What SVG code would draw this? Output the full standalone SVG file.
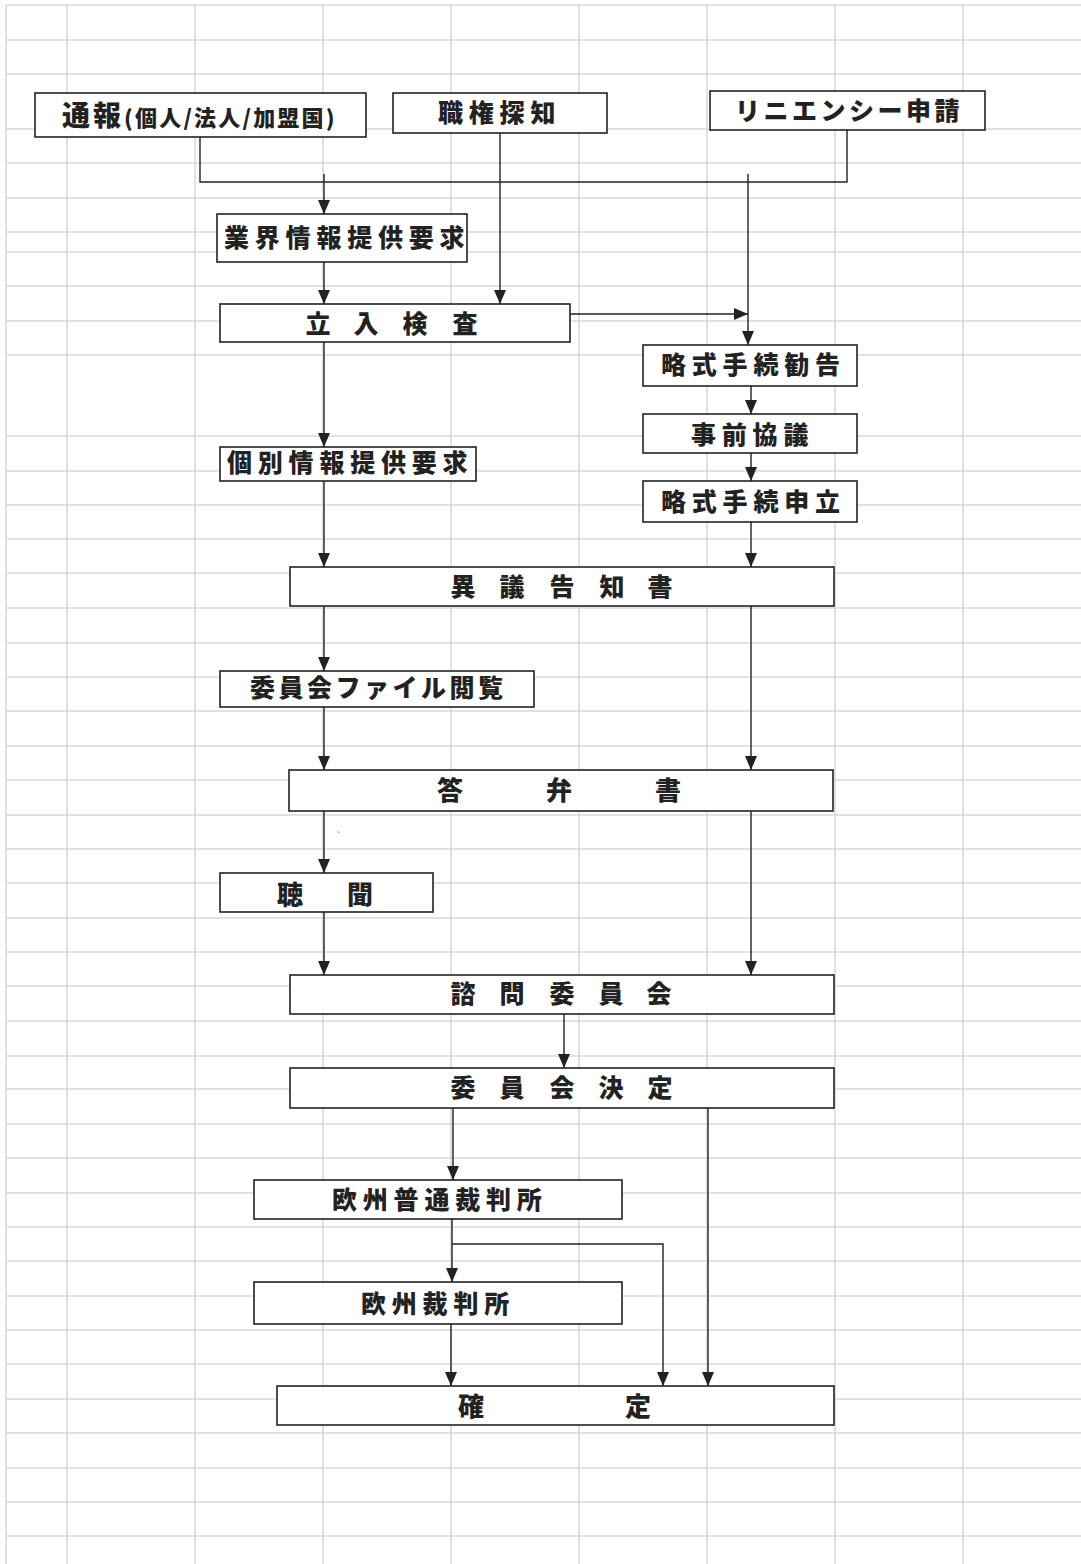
<svg xmlns="http://www.w3.org/2000/svg" width="1081" height="1564" viewBox="0 0 1081 1564">
<style>
.grid line{stroke:#d9d9d9;stroke-width:1.6}
.box{fill:#fff;stroke:#222;stroke-width:1.6}
.t{font-family:"Noto Sans CJK JP","Noto Sans CJK SC",sans-serif;font-weight:900;font-size:25px;fill:#222}
.ls{letter-spacing:5.8px}
.sp{text-anchor:middle;font-size:25px}
.big{font-size:26px}
.con path{fill:none;stroke:#222;stroke-width:1.4}
.arr{marker-end:url(#ah)}
</style>
<defs>
<marker id="ah" viewBox="0 0 14 12" refX="14" refY="6" markerWidth="14" markerHeight="12" markerUnits="userSpaceOnUse" orient="auto">
<path d="M0,0 L14,6 L0,12 z" fill="#222"/>
</marker>
</defs>
<rect x="0" y="0" width="1081" height="1564" fill="#fff"/>
<g class="grid">
<line x1="6" y1="5" x2="6" y2="1564"/>
<line x1="67" y1="5" x2="67" y2="1564"/>
<line x1="195" y1="5" x2="195" y2="1564"/>
<line x1="323" y1="5" x2="323" y2="1564"/>
<line x1="451" y1="5" x2="451" y2="1564"/>
<line x1="579" y1="5" x2="579" y2="1564"/>
<line x1="707" y1="5" x2="707" y2="1564"/>
<line x1="835" y1="5" x2="835" y2="1564"/>
<line x1="963" y1="5" x2="963" y2="1564"/>
<line x1="6" y1="5" x2="1081" y2="5"/>
<line x1="6" y1="40" x2="1081" y2="40"/>
<line x1="6" y1="74" x2="1081" y2="74"/>
<line x1="6" y1="129" x2="1081" y2="129"/>
<line x1="6" y1="163" x2="1081" y2="163"/>
<line x1="6" y1="198" x2="1081" y2="198"/>
<line x1="6" y1="232" x2="1081" y2="232"/>
<line x1="6" y1="252" x2="1081" y2="252"/>
<line x1="6" y1="286" x2="1081" y2="286"/>
<line x1="6" y1="321" x2="1081" y2="321"/>
<line x1="6" y1="355" x2="1081" y2="355"/>
<line x1="6" y1="436" x2="1081" y2="436"/>
<line x1="6" y1="471" x2="1081" y2="471"/>
<line x1="6" y1="505" x2="1081" y2="505"/>
<line x1="6" y1="539" x2="1081" y2="539"/>
<line x1="6" y1="573" x2="1081" y2="573"/>
<line x1="6" y1="608" x2="1081" y2="608"/>
<line x1="6" y1="643" x2="1081" y2="643"/>
<line x1="6" y1="677" x2="1081" y2="677"/>
<line x1="6" y1="711" x2="1081" y2="711"/>
<line x1="6" y1="746" x2="1081" y2="746"/>
<line x1="6" y1="780" x2="1081" y2="780"/>
<line x1="6" y1="815" x2="1081" y2="815"/>
<line x1="6" y1="849" x2="1081" y2="849"/>
<line x1="6" y1="883" x2="1081" y2="883"/>
<line x1="6" y1="918" x2="1081" y2="918"/>
<line x1="6" y1="952" x2="1081" y2="952"/>
<line x1="6" y1="986" x2="1081" y2="986"/>
<line x1="6" y1="1021" x2="1081" y2="1021"/>
<line x1="6" y1="1056" x2="1081" y2="1056"/>
<line x1="6" y1="1089" x2="1081" y2="1089"/>
<line x1="6" y1="1124" x2="1081" y2="1124"/>
<line x1="6" y1="1158" x2="1081" y2="1158"/>
<line x1="6" y1="1193" x2="1081" y2="1193"/>
<line x1="6" y1="1227" x2="1081" y2="1227"/>
<line x1="6" y1="1261" x2="1081" y2="1261"/>
<line x1="6" y1="1296" x2="1081" y2="1296"/>
<line x1="6" y1="1330" x2="1081" y2="1330"/>
<line x1="6" y1="1364" x2="1081" y2="1364"/>
<line x1="6" y1="1399" x2="1081" y2="1399"/>
<line x1="6" y1="1433" x2="1081" y2="1433"/>
<line x1="6" y1="1468" x2="1081" y2="1468"/>
<line x1="6" y1="1502" x2="1081" y2="1502"/>
<line x1="6" y1="1536" x2="1081" y2="1536"/>
</g>
<g class="con">
<path d="M200,137 V182 H847 V130"/>
<path class="arr" d="M324,174 V214"/>
<path class="arr" d="M324,262 V304"/>
<path class="arr" d="M500,133 V304"/>
<path class="arr" d="M748,174 V345"/>
<path class="arr" d="M567,314 H748"/>
<path class="arr" d="M324,342 V447"/>
<path class="arr" d="M324,481 V567"/>
<path class="arr" d="M324,606 V671"/>
<path class="arr" d="M324,707 V770"/>
<path class="arr" d="M324,811 V873"/>
<path class="arr" d="M324,912 V975"/>
<path class="arr" d="M751,386 V414"/>
<path class="arr" d="M751,453 V481"/>
<path class="arr" d="M751,522 V567"/>
<path class="arr" d="M751,606 V770"/>
<path class="arr" d="M751,811 V975"/>
<path class="arr" d="M564,1014 V1068"/>
<path class="arr" d="M453,1108 V1180"/>
<path class="arr" d="M708,1108 V1386"/>
<path class="arr" d="M452,1219 V1282"/>
<path class="arr" d="M452,1244 H663 V1386"/>
<path class="arr" d="M451,1324 V1386"/>
</g>
<g id="n-tsuho"><rect class="box" x="35" y="93" width="331" height="44"/><text class="t" x="62" y="126"><tspan font-size="28" letter-spacing="3">通報</tspan><tspan font-size="22" letter-spacing="2.2">(個人/法人/加盟国)</tspan></text></g>
<g id="n-shokken"><rect class="box" x="393" y="93" width="214" height="40"/><text class="t ls" x="438" y="122">職権探知</text></g>
<g id="n-leniency"><rect class="box" x="710" y="91" width="275" height="39"/><text class="t" x="735" y="120" letter-spacing="3.5">リニエンシー申請</text></g>
<g id="n-gyokai"><rect class="box" x="217" y="214" width="250" height="48"/><text class="t ls" x="224" y="247">業界情報提供要求</text></g>
<g id="n-tachiiri"><rect class="box" x="220" y="304" width="350" height="38"/><text class="t sp" x="318 366 415 465" y="333">立入検査</text></g>
<g id="n-kankoku"><rect class="box" x="643" y="345" width="214" height="41"/><text class="t ls" x="661" y="374">略式手続勧告</text></g>
<g id="n-jizen"><rect class="box" x="643" y="414" width="214" height="39"/><text class="t ls" x="691" y="444">事前協議</text></g>
<g id="n-moushitate"><rect class="box" x="643" y="481" width="214" height="41"/><text class="t ls" x="661" y="511">略式手続申立</text></g>
<g id="n-kobetsu"><rect class="box" x="220" y="447" width="256" height="34"/><text class="t ls" x="227" y="472">個別情報提供要求</text></g>
<g id="n-igi"><rect class="box" x="290" y="567" width="544" height="39"/><text class="t sp" x="463 512 562 612 660" y="596">異議告知書</text></g>
<g id="n-file"><rect class="box" x="220" y="671" width="314" height="36"/><text class="t" x="250" y="697" letter-spacing="3.5">委員会ファイル閲覧</text></g>
<g id="n-tobensho"><rect class="box" x="289" y="770" width="544" height="41"/><text class="t sp big" x="450 559 668" y="800">答弁書</text></g>
<text x="337" y="838" font-family="Liberation Sans, sans-serif" font-size="9" fill="#222">`</text>
<g id="n-chomon"><rect class="box" x="220" y="873" width="213" height="39"/><text class="t sp big" x="290 360" y="904">聴聞</text></g>
<g id="n-shimon"><rect class="box" x="290" y="975" width="544" height="39"/><text class="t sp" x="463 512 562 611 659" y="1003">諮問委員会</text></g>
<g id="n-kettei"><rect class="box" x="290" y="1068" width="544" height="40"/><text class="t sp" x="463 512 562 611 660" y="1097">委員会決定</text></g>
<g id="n-futsu"><rect class="box" x="254" y="1180" width="368" height="39"/><text class="t ls" x="332" y="1209">欧州普通裁判所</text></g>
<g id="n-saibansho"><rect class="box" x="254" y="1282" width="368" height="42"/><text class="t ls" x="361" y="1313">欧州裁判所</text></g>
<g id="n-kakutei"><rect class="box" x="277" y="1386" width="557" height="39"/><text class="t sp big" x="471 638" y="1416">確定</text></g>
</svg>
